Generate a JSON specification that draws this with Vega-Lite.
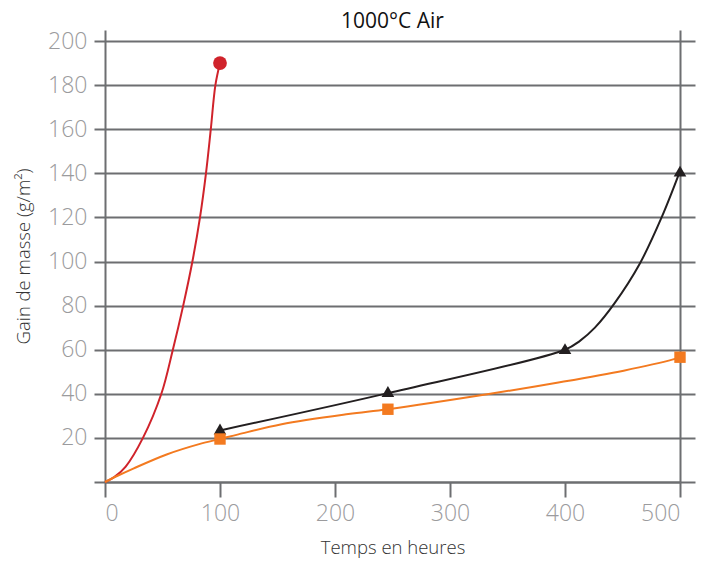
{
  "$schema": "https://vega.github.io/schema/vega-lite/v6.json",
  "width": 575,
  "height": 452,
  "autosize": {"type": "none"},
  "padding": {"left": 105, "top": 30, "right": 37, "bottom": 84},
  "background": "white",
  "title": {"text": "1000°C Air", "fontSize": 21, "font": "Open Sans", "fontWeight": "normal", "color": "#111111", "anchor": "middle", "offset": -2},
  "config": {"view": {"stroke": null}},
  "datasets": {
    "courbes": [
      {"serie": "A", "t": 0, "gain": 0},
      {"serie": "A", "t": 8, "gain": 2.2},
      {"serie": "A", "t": 18, "gain": 7},
      {"serie": "A", "t": 33, "gain": 20},
      {"serie": "A", "t": 49, "gain": 40},
      {"serie": "A", "t": 59, "gain": 60},
      {"serie": "A", "t": 68, "gain": 80},
      {"serie": "A", "t": 76, "gain": 100},
      {"serie": "A", "t": 82.6, "gain": 120},
      {"serie": "A", "t": 87.8, "gain": 140},
      {"serie": "A", "t": 92, "gain": 160},
      {"serie": "A", "t": 96, "gain": 180},
      {"serie": "A", "t": 100, "gain": 190},
      {"serie": "B", "t": 100, "gain": 23.4},
      {"serie": "B", "t": 246, "gain": 40.3},
      {"serie": "B", "t": 400, "gain": 60},
      {"serie": "B", "t": 413, "gain": 64},
      {"serie": "B", "t": 426, "gain": 70},
      {"serie": "B", "t": 443, "gain": 81},
      {"serie": "B", "t": 465, "gain": 99},
      {"serie": "B", "t": 484, "gain": 120},
      {"serie": "B", "t": 500, "gain": 141},
      {"serie": "C", "t": 0, "gain": 0},
      {"serie": "C", "t": 10, "gain": 2.6},
      {"serie": "C", "t": 24.6, "gain": 6.1},
      {"serie": "C", "t": 53.6, "gain": 12.5},
      {"serie": "C", "t": 82.6, "gain": 17.3},
      {"serie": "C", "t": 100, "gain": 19.5},
      {"serie": "C", "t": 116, "gain": 21.6},
      {"serie": "C", "t": 153.6, "gain": 26.2},
      {"serie": "C", "t": 211.6, "gain": 30.8},
      {"serie": "C", "t": 246, "gain": 33},
      {"serie": "C", "t": 335, "gain": 40},
      {"serie": "C", "t": 393, "gain": 45},
      {"serie": "C", "t": 451, "gain": 50.5},
      {"serie": "C", "t": 494, "gain": 55.6},
      {"serie": "C", "t": 500, "gain": 56.6}
    ],
    "mesures": [
      {"serie": "A", "t": 100, "gain": 190},
      {"serie": "B", "t": 100, "gain": 24},
      {"serie": "B", "t": 246, "gain": 41},
      {"serie": "B", "t": 400, "gain": 60.5},
      {"serie": "B", "t": 500, "gain": 141},
      {"serie": "C", "t": 100, "gain": 19.5},
      {"serie": "C", "t": 246, "gain": 33},
      {"serie": "C", "t": 500, "gain": 56.6}
    ]
  },
  "resolve": {"axis": {"y": "independent"}},
  "layer": [
    {
      "data": {"name": "courbes"},
      "mark": {"type": "line", "interpolate": "catmull-rom", "strokeWidth": 2, "clip": false},
      "encoding": {
        "x": {"field": "t", "type": "quantitative",
          "scale": {"domain": [0, 500], "nice": false, "zero": false},
          "axis": {"values": [0, 100, 200, 300, 400, 500], "grid": false, "tickSize": 15, "tickWidth": 2, "tickColor": "#6d6e71", "domainColor": "#6d6e71", "domainWidth": 2, "labelFont": "Open Sans", "labelFontWeight": 300, "labelFontSize": 23, "labelColor": "#9b9b9d", "labelPadding": 5, "title": "Temps en heures", "titleFont": "Open Sans", "titleFontSize": 18.5, "titleFontWeight": 300, "titleColor": "#333333", "titlePadding": 13}},
        "y": {"field": "gain", "type": "quantitative",
          "scale": {"domain": [0, 205], "nice": false},
          "axis": {"orient": "left", "values": [0, 20, 40, 60, 80, 100, 120, 140, 160, 180, 200], "labelExpr": "datum.value == 0 ? '' : datum.label", "grid": true, "gridColor": "#6d6e71", "gridWidth": 2, "gridOpacity": 1, "tickSize": 11, "tickWidth": 2, "tickColor": "#6d6e71", "domainColor": "#6d6e71", "domainWidth": 2, "labelFont": "Open Sans", "labelFontWeight": 300, "labelFontSize": 23, "labelColor": "#9b9b9d", "labelPadding": 7, "title": "Gain de masse (g/m²)", "titleFont": "Open Sans", "titleFontSize": 18.5, "titleFontWeight": 300, "titleColor": "#333333", "titlePadding": 14}},
        "color": {"field": "serie", "type": "nominal", "scale": {"domain": ["A", "B", "C"], "range": ["#d0232b", "#231f20", "#f37a20"]}, "legend": null},
        "detail": {"field": "serie"}
      }
    },
    {
      "data": {"name": "mesures"},
      "mark": {"type": "point", "filled": true, "opacity": 1, "clip": false},
      "encoding": {
        "x": {"field": "t", "type": "quantitative"},
        "y": {"field": "gain", "type": "quantitative",
          "axis": {"orient": "right", "values": [0, 20, 40, 60, 80, 100, 120, 140, 160, 180, 200], "labels": false, "grid": false, "tickSize": 15, "tickWidth": 2, "tickColor": "#6d6e71", "domainColor": "#6d6e71", "domainWidth": 2, "title": null}},
        "color": {"field": "serie", "type": "nominal", "legend": null},
        "shape": {"field": "serie", "type": "nominal", "scale": {"domain": ["A", "B", "C"], "range": ["circle", "triangle-up", "square"]}, "legend": null},
        "size": {"field": "serie", "type": "nominal", "scale": {"domain": ["A", "B", "C"], "range": [190, 130, 210]}, "legend": null}
      }
    }
  ]
}
